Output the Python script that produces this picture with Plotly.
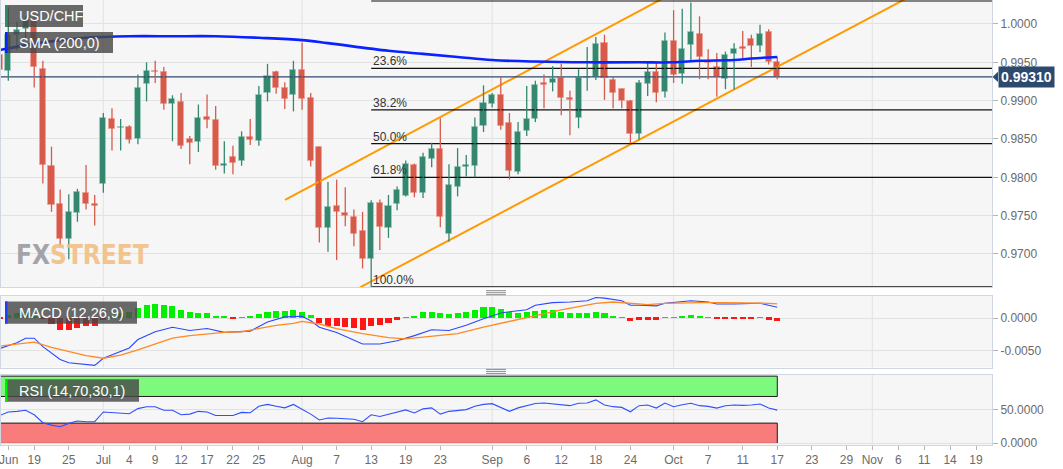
import plotly.graph_objects as go

# ---------------- data ----------------
opens = [0.9960, 0.9939, 0.9986, 0.9994, 1.0005, 0.9941, 0.9815, 0.9765, 0.9720, 0.9754,
         0.9779, 0.9765, 0.9791, 0.9876, 0.9864, 0.9865, 0.9850, 0.9922, 0.9939, 0.9938,
         0.9895, 0.9898, 0.9850, 0.9846, 0.9879, 0.9875, 0.9815, 0.9827, 0.9821, 0.9853,
         0.9848, 0.9910, 0.9937, 0.9916, 0.9907, 0.9940, 0.9904, 0.9839, 0.9734, 0.9763,
         0.9754, 0.9748, 0.9730, 0.9693, 0.9766, 0.9734, 0.9765, 0.9776, 0.9816, 0.9780,
         0.9824, 0.9837, 0.9726, 0.9787, 0.9814, 0.9815, 0.9867, 0.9896, 0.9907, 0.9871,
         0.9807, 0.9860, 0.9876, 0.9923, 0.9923, 0.9929, 0.9904, 0.9878, 0.9929, 0.9931,
         0.9975, 0.9927, 0.9915, 0.9899, 0.9856, 0.9922, 0.9938, 0.9911, 0.9978, 0.9935,
         0.9972, 0.9987, 0.9952, 0.9944, 0.9928, 0.9961, 0.9970, 0.9980, 0.9971, 0.9989,
         0.9951]
highs = [0.9966, 1.0022, 1.0003, 1.0010, 1.0009, 0.9952, 0.9840, 0.9784, 0.9778, 0.9785,
         0.9816, 0.9777, 0.9884, 0.9890, 0.9876, 0.9868, 0.9934, 0.9950, 0.9952, 0.9944,
         0.9907, 0.9910, 0.9854, 0.9895, 0.9908, 0.9893, 0.9847, 0.9841, 0.9860, 0.9876,
         0.9919, 0.9948, 0.9939, 0.9924, 0.9952, 0.9976, 0.9910, 0.9840, 0.9794, 0.9797,
         0.9787, 0.9758, 0.9755, 0.9770, 0.9771, 0.9777, 0.9788, 0.9822, 0.9818, 0.9832,
         0.9845, 0.9877, 0.9817, 0.9838, 0.9829, 0.9878, 0.9920, 0.9910, 0.9931, 0.9884,
         0.9872, 0.9919, 0.9926, 0.9934, 0.9945, 0.9948, 0.9913, 0.9941, 0.9970, 0.9983,
         0.9986, 0.9931, 0.9916, 0.9901, 0.9927, 0.9949, 0.9949, 0.9989, 1.0018, 1.0020,
         1.0028, 1.0010, 0.9967, 0.9962, 0.9964, 0.9975, 0.9991, 0.9986, 0.9999, 0.9993,
         0.9957]
lows = [0.9917, 0.9926, 0.9966, 0.9981, 0.9917, 0.9792, 0.9755, 0.9709, 0.9693, 0.9742,
        0.9758, 0.9737, 0.9780, 0.9835, 0.9835, 0.9844, 0.9843, 0.9899, 0.9923, 0.9888,
        0.9847, 0.9837, 0.9817, 0.9833, 0.9864, 0.9810, 0.9805, 0.9804, 0.9815, 0.9842,
        0.9841, 0.9899, 0.9909, 0.9889, 0.9886, 0.9888, 0.9814, 0.9715, 0.9703, 0.9692,
        0.9736, 0.9710, 0.9681, 0.9657, 0.9705, 0.9721, 0.9757, 0.9775, 0.9774, 0.9773,
        0.9813, 0.9735, 0.9716, 0.9775, 0.9801, 0.9800, 0.9859, 0.9891, 0.9862, 0.9797,
        0.9804, 0.9854, 0.9872, 0.9890, 0.9912, 0.9881, 0.9855, 0.9864, 0.9913, 0.9927,
        0.9901, 0.9890, 0.9890, 0.9844, 0.9849, 0.9906, 0.9898, 0.9904, 0.9923, 0.9922,
        0.9953, 0.9928, 0.9928, 0.9905, 0.9915, 0.9915, 0.9955, 0.9944, 0.9963, 0.9947,
        0.9928]
closes = [0.9940, 0.9985, 0.9992, 1.0005, 0.9944, 0.9816, 0.9764, 0.9720, 0.9755, 0.9781,
          0.9765, 0.9763, 0.9878, 0.9863, 0.9866, 0.9849, 0.9916, 0.9939, 0.9937, 0.9896,
          0.9902, 0.9841, 0.9845, 0.9878, 0.9875, 0.9815, 0.9818, 0.9819, 0.9853, 0.9849,
          0.9908, 0.9932, 0.9916, 0.9902, 0.9940, 0.9902, 0.9821, 0.9734, 0.9761, 0.9755,
          0.9749, 0.9726, 0.9693, 0.9766, 0.9735, 0.9763, 0.9783, 0.9817, 0.9779, 0.9826,
          0.9837, 0.9748, 0.9790, 0.9813, 0.9816, 0.9866, 0.9897, 0.9907, 0.9867, 0.9808,
          0.9859, 0.9876, 0.9920, 0.9920, 0.9928, 0.9904, 0.9901, 0.9929, 0.9931, 0.9974,
          0.9929, 0.9910, 0.9900, 0.9856, 0.9923, 0.9937, 0.9910, 0.9978, 0.9934, 0.9968,
          0.9989, 0.9957, 0.9949, 0.9931, 0.9960, 0.9968, 0.9968, 0.9971, 0.9987, 0.9951,
          0.9931]

sma_idx = [0, 5, 10, 15, 20, 25, 30, 35, 38, 45, 49, 53, 57, 62, 68, 74, 78, 81, 85, 87, 90]
sma_vals = [0.9966, 0.9976, 0.9982, 0.9984, 0.9984, 0.9984, 0.9982, 0.9979, 0.9975, 0.9965,
            0.9961, 0.9957, 0.9953, 0.9951, 0.9950, 0.9950, 0.9950, 0.9952, 0.9953, 0.9955,
            0.9957]

macd_idx = [0, 2, 3, 4, 5, 7, 8, 11, 12, 14, 15, 16, 18, 20, 22, 24, 26, 29, 31, 33, 35, 36,
            37, 39, 42, 44, 46, 48, 50, 52, 54, 56, 58, 59, 61, 62, 63, 64, 66, 68, 69, 70,
            72, 73, 74, 76, 77, 79, 80, 82, 83, 85, 87, 88, 89, 90]
macd_vals = [-0.0047, -0.0038, -0.0031, -0.0031, -0.0044, -0.0064, -0.0069, -0.0073, -0.0062,
             -0.0052, -0.0046, -0.0033, -0.0021, -0.0014, -0.0019, -0.0016, -0.0022, -0.0020,
             -0.0006, 0.0002, 0.0003, -0.0004, -0.0014, -0.0022, -0.0040, -0.0040, -0.0035,
             -0.0027, -0.0018, -0.0019, -0.0011, -0.0001, 0.0008, 0.0010, 0.0013, 0.0020,
             0.0022, 0.0024, 0.0025, 0.0027, 0.0032, 0.0031, 0.0027, 0.0020, 0.0020, 0.0019,
             0.0023, 0.0025, 0.0027, 0.0025, 0.0022, 0.0022, 0.0022, 0.0023, 0.0020, 0.0017]
signal_idx = [0, 4, 6, 8, 10, 12, 14, 16, 18, 20, 22, 24, 26, 28, 30, 32, 34, 35, 37, 39, 42,
              45, 47, 50, 53, 56, 58, 60, 62, 63, 65, 67, 69, 71, 72, 74, 75, 77, 79, 81, 84,
              86, 88, 89, 90]
signal_vals = [-0.0043, -0.0037, -0.0045, -0.0052, -0.0058, -0.0062, -0.0057, -0.0049, -0.0040,
               -0.0031, -0.0027, -0.0024, -0.0022, -0.0021, -0.0016, -0.0011, -0.0008, -0.0005,
               -0.0009, -0.0016, -0.0024, -0.0030, -0.0032, -0.0028, -0.0024, -0.0014, -0.0008,
               -0.0001, 0.0005, 0.0008, 0.0013, 0.0018, 0.0023, 0.0025, 0.0024, 0.0022, 0.0021,
               0.0023, 0.0024, 0.0024, 0.0024, 0.0024, 0.0024, 0.0023, 0.0022]
hist_vals = [-0.0001, 0.0004, 0.0008, 0.0010, 0.0006, -0.0002, -0.0009, -0.0019, -0.0019, -0.0016,
             -0.0013, -0.0012, -0.0003, 0.0003, 0.0007, 0.0010, 0.0015, 0.0020, 0.0022, 0.0020,
             0.0018, 0.0012, 0.0009, 0.0008, 0.0007, 0.0003, 0.0002, -0.0001, 0.0001, 0.0002,
             0.0006, 0.0010, 0.0011, 0.0011, 0.0012, 0.0010, 0.0004, -0.0008, -0.0012, -0.0013,
             -0.0014, -0.0016, -0.0018, -0.0012, -0.0011, -0.0008, -0.0003, 0.0001, 0.0003, 0.0009,
             0.0010, 0.0007, 0.0006, 0.0007, 0.0009, 0.0012, 0.0017, 0.0017, 0.0014, 0.0009,
             0.0008, 0.0009, 0.0011, 0.0012, 0.0012, 0.0010, 0.0008, 0.0008, 0.0008, 0.0010,
             0.0007, 0.0003, 0.00003, -0.0005, -0.0003, -0.0003, -0.0003, 0.0001, 0.00003, 0.0002,
             0.0004, 0.0002, 0.0001, -0.0002, -0.0002, -0.0002, -0.0002, -0.0002, 0.00003, -0.0003,
             -0.0005]
rsi_vals = [41.4, 46.7, 47.7, 49.3, 42.5, 30.6, 27.0, 24.5, 29.6, 33.2,
            32.1, 32.1, 46.7, 45.6, 45.2, 44.1, 51.8, 54.5, 54.5, 49.3,
            49.3, 42.5, 43.5, 47.7, 46.7, 41.4, 41.4, 41.4, 46.1, 45.6,
            55.4, 58.1, 55.4, 52.9, 58.1, 51.4, 43.5, 34.8, 37.8, 37.4,
            36.9, 35.9, 32.1, 42.5, 39.9, 43.5, 46.1, 49.8, 45.2, 51.4,
            52.9, 43.5, 47.7, 49.3, 50.3, 55.4, 58.1, 59.2, 52.9, 47.7,
            52.9, 56.0, 59.5, 60.2, 59.0, 57.2, 56.2, 59.8, 60.2, 64.9,
            57.2, 54.7, 53.6, 47.0, 56.2, 57.2, 52.6, 60.2, 54.7, 57.7,
            59.8, 56.2, 55.1, 52.6, 56.2, 57.2, 56.6, 57.2, 58.7, 52.6,
            49.5]

fib_labels = ["23.6%", "38.2%", "50.0%", "61.8%", "100.0%"]
fib_prices = [1.0030, 0.9942, 0.9888, 0.9844, 0.9800, 0.9657]   # 0%, 23.6 .. 100%
fib_start = 43

upper_chan_x = [33.03, 78.74]
upper_chan_y = [0.97704, 1.00453]
lower_chan_x = [41.71, 110.0]
lower_chan_y = [0.96565, 1.00635]

tick_idx = [1.05, 4, 8, 12, 15, 18, 21, 24, 27, 30, 35, 39, 43, 47, 51, 57, 61, 65, 69, 73,
            78, 82, 86, 90, 94, 98, 101, 104, 107, 110, 113]
tick_text = ["Jun", "19", "25", "Jul", "4", "9", "12", "17", "22", "25", "Aug", "7", "13",
             "19", "23", "Sep", "6", "12", "18", "24", "Oct", "7", "11", "17", "23", "29",
             "Nov", "6", "11", "14", "19"]
month_idx = [12, 35, 57, 78, 101]

# ---------------- figure ----------------
W, H = 1063, 469
ML, MR, MT, MB = 1, 71, 0, 24
PW, PH = W - ML - MR, H - MT - MB
X_RANGE = [0.155, 114.85]

def px_x(p):
    return (p - ML) / PW

def px_y(p):
    return (PH - p) / PH

GREEN, RED = "#35876f", "#d65b4b"
GREEN_EDGE, RED_EDGE = "#9fcbbd", "#eea49a"
n = len(opens)
idx = list(range(n))
up = [i for i in idx if closes[i] >= opens[i]]
dn = [i for i in idx if closes[i] < opens[i]]

fig = go.Figure()

# channel lines
fig.add_trace(go.Scatter(x=upper_chan_x, y=upper_chan_y, mode="lines",
                         line=dict(color="#ff9a00", width=2), hoverinfo="skip"))
fig.add_trace(go.Scatter(x=lower_chan_x, y=lower_chan_y, mode="lines",
                         line=dict(color="#ff9a00", width=2), hoverinfo="skip"))

# fib lines
for p in fib_prices:
    fig.add_trace(go.Scatter(x=[fib_start, X_RANGE[1]], y=[p, p], mode="lines",
                             line=dict(color="#111111", width=1.2), hoverinfo="skip"))

# current price line
fig.add_trace(go.Scatter(x=X_RANGE, y=[closes[-1], closes[-1]], mode="lines",
                         line=dict(color="#2c4a6e", width=1.2), hoverinfo="skip"))

# wicks
for ids, col in ((up, GREEN), (dn, RED)):
    wx, wy = [], []
    for i in ids:
        wx += [i, i, None]
        wy += [lows[i], highs[i], None]
    fig.add_trace(go.Scatter(x=wx, y=wy, mode="lines", line=dict(color=col, width=1.3),
                             hoverinfo="skip"))

# bodies
for ids, col, edge in ((up, GREEN, GREEN_EDGE), (dn, RED, RED_EDGE)):
    fig.add_trace(go.Bar(
        x=ids,
        base=[min(opens[i], closes[i]) for i in ids],
        y=[max(abs(closes[i] - opens[i]), 0.00003) for i in ids],
        width=0.7, marker=dict(color=col, line=dict(color=edge, width=1)),
        hoverinfo="skip"))

# SMA 200
fig.add_trace(go.Scatter(x=sma_idx, y=sma_vals, mode="lines",
                         line=dict(color="#0a22ff", width=2.6, shape="spline"),
                         hoverinfo="skip"))

# MACD
fig.add_trace(go.Bar(x=idx, y=hist_vals, width=0.7, xaxis="x2", yaxis="y2",
                     marker=dict(color=["#00f000" if v >= 0 else "#ff1515" for v in hist_vals],
                                 line=dict(width=0)),
                     hoverinfo="skip"))
fig.add_trace(go.Scatter(x=macd_idx, y=macd_vals, mode="lines", xaxis="x2", yaxis="y2",
                         line=dict(color="#2a48ff", width=1.1), hoverinfo="skip"))
fig.add_trace(go.Scatter(x=signal_idx, y=signal_vals, mode="lines", xaxis="x2", yaxis="y2",
                         line=dict(color="#ff8a24", width=1.3), hoverinfo="skip"))

# RSI
fig.add_trace(go.Scatter(x=idx, y=rsi_vals, mode="lines", xaxis="x3", yaxis="y3",
                         line=dict(color="#2f50ff", width=1.1), hoverinfo="skip"))

FONT = "Liberation Sans, Arial, sans-serif"
axis_common = dict(showline=True, mirror=True, linecolor="#d0d6e4", linewidth=1,
                   zeroline=False)
yax = dict(side="right", showgrid=True, gridcolor="#e2e2e2", ticks="outside", ticklen=5,
           tickcolor="#b5b5b5", tickfont=dict(family=FONT, size=12, color="#6b6b6b"),
           **axis_common)

main_dom = [px_y(287.3), 1.0]
macd_dom = [px_y(367.5), px_y(296.2)]
rsi_dom = [0.0, px_y(374.5)]

fig.update_layout(
    width=W, height=H, margin=dict(l=ML, r=MR, t=MT, b=MB, autoexpand=False),
    paper_bgcolor="white", plot_bgcolor="#f6f6f6", showlegend=False,
    barmode="overlay", bargap=0,
    xaxis=dict(domain=[0, 1], range=X_RANGE, anchor="y", showticklabels=False,
               showgrid=False, ticks="", **axis_common),
    xaxis2=dict(domain=[0, 1], range=X_RANGE, anchor="y2", matches="x",
                showticklabels=False, showgrid=False, ticks="", **axis_common),
    xaxis3=dict(domain=[0, 1], range=X_RANGE, anchor="y3", matches="x",
                tickvals=tick_idx, ticktext=tick_text, showgrid=False,
                ticks="outside", ticklen=4, tickcolor="#b5b5b5", ticklabeloverflow="allow",
                tickfont=dict(family=FONT, size=12, color="#6b6b6b"), **axis_common),
    yaxis=dict(domain=main_dom, range=[0.96565, 1.00313], anchor="x",
               tickvals=[0.97, 0.975, 0.98, 0.985, 0.99, 0.995, 1.0],
               ticktext=["0.9700", "0.9750", "0.9800", "0.9850", "0.9900", "0.9950", "1.0000"],
               **yax),
    yaxis2=dict(domain=macd_dom, range=[-0.00763, 0.0034], anchor="x2",
                tickvals=[0, -0.005], ticktext=["0.0000", "-0.0050"], **yax),
    yaxis3=dict(domain=rsi_dom, range=[-2.85, 103], anchor="x3",
                tickvals=[0, 50], ticktext=["0.0000", "50.0000"], **yax),
)

shapes = []
# month grid lines in every panel
for m in month_idx:
    for xr, yr in (("x", "y domain"), ("x2", "y2 domain"), ("x3", "y3 domain")):
        shapes.append(dict(type="line", xref=xr, yref=yr, x0=m, x1=m, y0=0, y1=1,
                           line=dict(color="#e2e2e2", width=1), layer="below"))
# RSI bands
shapes.append(dict(type="rect", xref="x3", yref="y3", x0=-1, x1=n - 1, y0=70, y1=100.5,
                   fillcolor="#7dfa7d", line=dict(color="#1d1d1d", width=1), layer="below"))
shapes.append(dict(type="rect", xref="x3", yref="y3", x0=-1, x1=n - 1, y0=-0.5, y1=30,
                   fillcolor="#f87c7c", line=dict(color="#1d1d1d", width=1), layer="below"))

# label boxes
boxes = [
    ("USD/CHF", 5, 83, 5, 27, "#2e8b6e"),
    ("SMA (200,0)", 5, 113, 32, 53, "#0a22ff"),
    ("MACD (12,26,9)", 5, 137, 301.4, 323.7, "#1f3fff"),
    ("RSI (14,70,30,1)", 5, 139, 379.3, 401.7, "#00ee00"),
]
annotations = []
for text, x0, x1, y0, y1, strip in boxes:
    shapes.append(dict(type="rect", xref="paper", yref="paper", x0=px_x(x0), x1=px_x(x1),
                       y0=px_y(y1), y1=px_y(y0), fillcolor="rgba(72,72,72,0.82)",
                       line=dict(width=0), layer="above"))
    shapes.append(dict(type="rect", xref="paper", yref="paper", x0=px_x(x0),
                       x1=px_x(x0 + 2.5), y0=px_y(y1), y1=px_y(y0), fillcolor=strip,
                       line=dict(width=0), layer="above"))
    annotations.append(dict(text=text, xref="paper", yref="paper", x=px_x(17),
                            y=px_y((y0 + y1) / 2), xanchor="left", yanchor="middle",
                            showarrow=False,
                            font=dict(family=FONT, size=14.5, color="white")))

# panel resize handles
for yy in (290.7, 292.7, 294.7, 369.4, 371.4, 373.4):
    shapes.append(dict(type="line", xref="paper", yref="paper", x0=px_x(486), x1=px_x(506),
                       y0=px_y(yy), y1=px_y(yy), line=dict(color="#8a8a8a", width=1)))

# current price tag arrow
last = closes[-1]
shapes.append(dict(type="path", xref="paper", yref="y",
                   path=f"M {px_x(992.5)},{last} L {px_x(998)},{last + 0.00068} "
                        f"L {px_x(998)},{last - 0.00068} Z",
                   fillcolor="#2c4a6e", line=dict(width=0)))
annotations.append(dict(text="<b>%.5f</b>" % last, xref="paper", yref="y", x=px_x(997.5),
                        y=last, xanchor="left", yanchor="middle", showarrow=False,
                        bgcolor="#2c4a6e", borderpad=2,
                        font=dict(family=FONT, size=14, color="white")))

# fib labels
for lab, p in zip(fib_labels, fib_prices[1:]):
    annotations.append(dict(text=lab, xref="x", yref="y", x=fib_start - 0.05, y=p,
                            xanchor="left", yanchor="bottom", showarrow=False, yshift=-2,
                            font=dict(family=FONT, size=12, color="#333333")))

# watermark
annotations.append(dict(
    text="<b><span style='color:#9b9ca1'>FX</span><span style='color:#f1bf85'>STREET</span></b>",
    xref="paper", yref="paper", x=px_x(14), y=px_y(254.5), xanchor="left", yanchor="middle",
    showarrow=False, opacity=0.9,
    font=dict(family="'Liberation Sans Narrow', 'DejaVu Sans Condensed', sans-serif",
              size=26)))

fig.update_layout(shapes=shapes, annotations=annotations)
fig.write_html(
    "out.html",
    config={"displayModeBar": False},
    post_script="document.body.style.margin='0';document.body.style.overflow='hidden';",
)
